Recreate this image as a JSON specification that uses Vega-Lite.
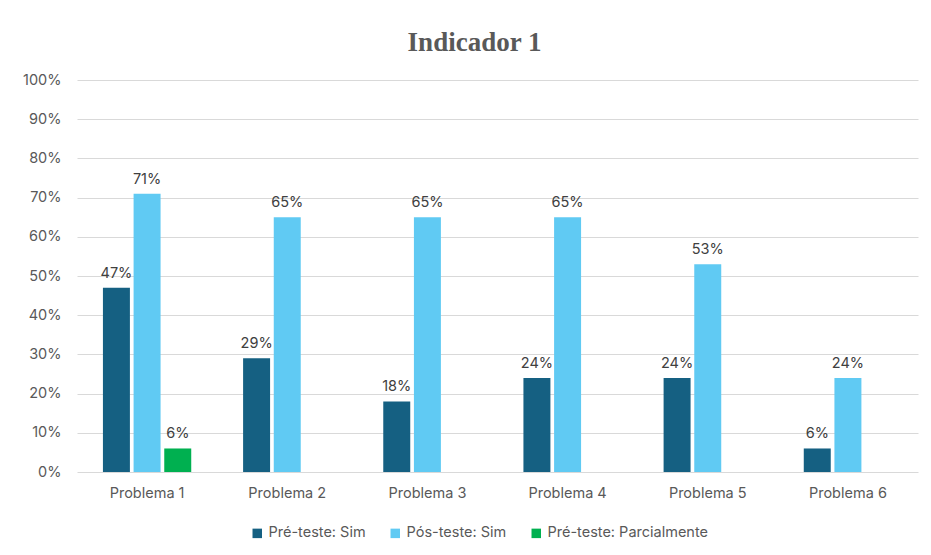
{
  "$schema": "https://vega.github.io/schema/vega-lite/v6.json",
  "width": 841,
  "height": 392,
  "autosize": "none",
  "padding": {"left": 77, "top": 80, "right": 13, "bottom": 83},
  "background": "white",
  "title": {
    "text": "Indicador 1",
    "font": "Liberation Serif",
    "fontSize": 27,
    "fontWeight": "bold",
    "color": "#595959",
    "offset": 15,
    "dx": -23
  },
  "data": {
    "values": [
      {"problema": "Problema 1", "serie": "Pré-teste: Sim", "valor": 0.47},
      {"problema": "Problema 1", "serie": "Pós-teste: Sim", "valor": 0.71},
      {"problema": "Problema 1", "serie": "Pré-teste: Parcialmente", "valor": 0.06},
      {"problema": "Problema 2", "serie": "Pré-teste: Sim", "valor": 0.29},
      {"problema": "Problema 2", "serie": "Pós-teste: Sim", "valor": 0.65},
      {"problema": "Problema 3", "serie": "Pré-teste: Sim", "valor": 0.18},
      {"problema": "Problema 3", "serie": "Pós-teste: Sim", "valor": 0.65},
      {"problema": "Problema 4", "serie": "Pré-teste: Sim", "valor": 0.24},
      {"problema": "Problema 4", "serie": "Pós-teste: Sim", "valor": 0.65},
      {"problema": "Problema 5", "serie": "Pré-teste: Sim", "valor": 0.24},
      {"problema": "Problema 5", "serie": "Pós-teste: Sim", "valor": 0.53},
      {"problema": "Problema 6", "serie": "Pré-teste: Sim", "valor": 0.06},
      {"problema": "Problema 6", "serie": "Pós-teste: Sim", "valor": 0.24}
    ]
  },
  "encoding": {
    "x": {
      "field": "problema",
      "type": "nominal",
      "sort": null,
      "scale": {"paddingInner": 0.37, "paddingOuter": 0.185},
      "axis": {
        "title": null,
        "labelAngle": 0,
        "ticks": false,
        "domain": false,
        "labelPadding": 14,
        "labelFont": "Inter",
        "labelFontSize": 14.5,
        "labelColor": "#595959"
      }
    },
    "xOffset": {
      "field": "serie",
      "type": "nominal",
      "sort": ["Pré-teste: Sim", "Pós-teste: Sim", "Pré-teste: Parcialmente"],
      "scale": {"paddingInner": 0.12}
    },
    "y": {
      "field": "valor",
      "type": "quantitative",
      "scale": {"domain": [0, 1]},
      "axis": {
        "title": null,
        "values": [0, 0.1, 0.2, 0.3, 0.4, 0.5, 0.6, 0.7, 0.8, 0.9, 1],
        "format": ".0%",
        "ticks": false,
        "domain": false,
        "labelPadding": 16,
        "labelFont": "Inter",
        "labelFontSize": 14.5,
        "labelColor": "#595959",
        "gridColor": "#d9d9d9",
        "gridWidth": 1
      }
    }
  },
  "layer": [
    {
      "mark": {"type": "bar"},
      "encoding": {
        "color": {
          "field": "serie",
          "type": "nominal",
          "sort": ["Pré-teste: Sim", "Pós-teste: Sim", "Pré-teste: Parcialmente"],
          "scale": {
            "domain": ["Pré-teste: Sim", "Pós-teste: Sim", "Pré-teste: Parcialmente"],
            "range": ["#156082", "#60CAF3", "#00B050"]
          },
          "legend": {
            "title": null,
            "orient": "none",
            "legendX": 173,
            "legendY": 446,
            "direction": "horizontal",
            "symbolType": "square",
            "symbolSize": 90,
            "symbolStrokeWidth": 0,
            "labelFont": "Inter",
            "labelFontSize": 14.5,
            "labelColor": "#595959",
            "labelLimit": 300,
            "columnPadding": 22
          }
        }
      }
    },
    {
      "mark": {"type": "text", "baseline": "bottom", "dy": -7, "font": "Inter", "fontSize": 14.5, "color": "#404040"},
      "encoding": {
        "text": {"field": "valor", "type": "quantitative", "format": ".0%"}
      }
    }
  ],
  "config": {"view": {"stroke": null}}
}
